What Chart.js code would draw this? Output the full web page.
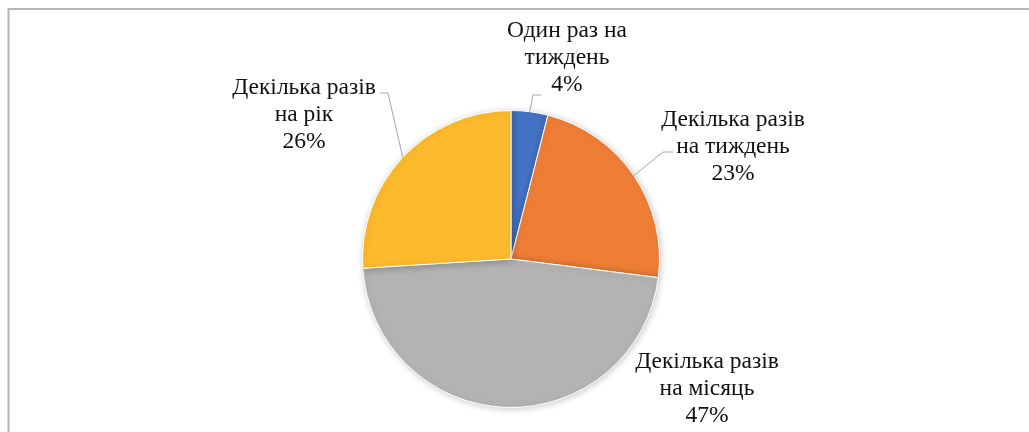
<!DOCTYPE html>
<html>
<head>
<meta charset="utf-8">
<script src="https://cdn.jsdelivr.net/npm/chart.js@4.4.1/dist/chart.umd.min.js"></script>
<style>
  html, body { margin: 0; padding: 0; background: #fff; }
  #wrap { width: 1029px; height: 432px; position: relative; }
</style>
</head>
<body>
<div id="wrap"><canvas id="pie" width="1029" height="432"></canvas></div>
<script>
// ── Data ──────────────────────────────────────────────────────────────────────
const categories = [
  ['Один раз на', 'тиждень'],
  ['Декілька разів', 'на тиждень'],
  ['Декілька разів', 'на місяць'],
  ['Декілька разів', 'на рік']
];
const shares = [4, 23, 47, 26];

// ── Style ─────────────────────────────────────────────────────────────────────
const COLORS = ['#4472C4', '#EE7E36', '#B3B3B3', '#FDBA2C'];
const FONT = '23.5px "Liberation Serif", "Times New Roman", serif';
const LINE_H = 27;
// label block centre relative to pie centre, and leader elbow/end (null = no leader)
const LABEL_POS = [
  { dx: 56,   dy: -201, elbow: [22, -164], end: [30, -164] },
  { dx: 222,  dy: -112, elbow: [152, -107], end: [162, -107] },
  { dx: 196,  dy: 130,  elbow: null },
  { dx: -207, dy: -144, elbow: [-123, -166], end: [-131, -166] }
];

const shadowPlugin = {
  id: 'shadow',
  beforeDatasetsDraw(chart) {
    const ctx = chart.ctx;
    ctx.save();
    ctx.shadowColor = 'rgba(0,0,0,0.22)';
    ctx.shadowBlur = 7;
    ctx.shadowOffsetX = 1;
    ctx.shadowOffsetY = 1;
  },
  afterDatasetsDraw(chart) { chart.ctx.restore(); }
};

const labelPlugin = {
  id: 'labels',
  afterDraw(chart) {
    const ctx = chart.ctx;
    const meta = chart.getDatasetMeta(0);
    ctx.save();
    // frame: only top and left edges are visible in the crop
    ctx.strokeStyle = '#B4B4B4';
    ctx.lineWidth = 2;
    ctx.beginPath();
    ctx.moveTo(8.5, chart.height);
    ctx.lineTo(8.5, 9);
    ctx.lineTo(chart.width, 9);
    ctx.stroke();

    meta.data.forEach((arc, i) => {
      const { x, y, outerRadius, startAngle, endAngle } = arc.getProps(['x', 'y', 'outerRadius', 'startAngle', 'endAngle'], true);
      const mid = (startAngle + endAngle) / 2;
      const p = LABEL_POS[i];
      if (p.elbow) {
        ctx.strokeStyle = '#A6A6A6';
        ctx.lineWidth = 1;
        ctx.beginPath();
        ctx.moveTo(x + Math.cos(mid) * outerRadius, y + Math.sin(mid) * outerRadius);
        ctx.lineTo(x + p.elbow[0], y + p.elbow[1]);
        ctx.lineTo(x + p.end[0], y + p.end[1]);
        ctx.stroke();
      }
      const lines = categories[i].concat([shares[i] + '%']);
      ctx.fillStyle = '#111';
      ctx.font = FONT;
      ctx.textAlign = 'center';
      ctx.textBaseline = 'middle';
      const cx = x + p.dx, cy = y + p.dy;
      lines.forEach((t, k) => {
        ctx.fillText(t, cx, cy + (k - (lines.length - 1) / 2) * LINE_H);
      });
    });
    ctx.restore();
  }
};

new Chart(document.getElementById('pie'), {
  type: 'pie',
  data: {
    labels: categories.map(c => c.join(' ')),
    datasets: [{
      data: shares,
      backgroundColor: COLORS,
      borderColor: '#FFFFFF',
      borderWidth: 1
    }]
  },
  options: {
    responsive: false,
    animation: false,
    layout: { padding: { top: 110, bottom: 24, left: 362, right: 369 } },
    plugins: {
      legend: { display: false },
      tooltip: { enabled: false }
    }
  },
  plugins: [shadowPlugin, labelPlugin]
});
</script>
</body>
</html>
